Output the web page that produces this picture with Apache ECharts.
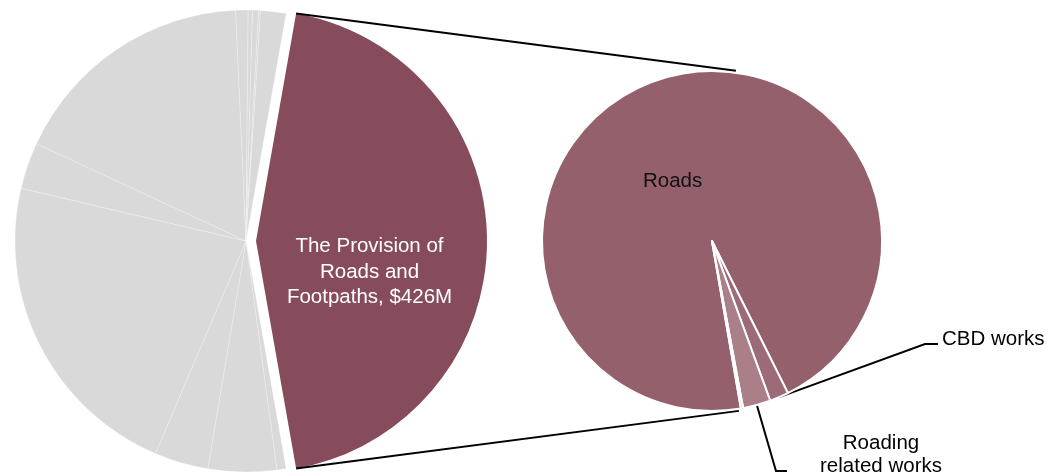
<!DOCTYPE html>
<html>
<head>
<meta charset="utf-8">
<script src="https://cdn.jsdelivr.net/npm/echarts@6/dist/echarts.min.js"></script>
<style>
  html, body { margin: 0; padding: 0; background: #ffffff; }
  #chart { width: 1063px; height: 475px; }
</style>
</head>
<body>
<div id="chart"></div>
<script>
// Spending by activity ($M): the highlighted activity first, then the remaining activity groups
const mainCategories = [
  'The Provision of Roads and Footpaths',
  'Activity group 1', 'Activity group 2', 'Activity group 3', 'Activity group 4',
  'Activity group 5', 'Activity group 6', 'Activity group 7', 'Activity group 8',
  'Activity group 9', 'Activity group 10', 'Activity group 11'
];
const mainValues = [426, 6.1, 45.8, 36.2, 213.3, 31.2, 166.4, 8.3, 2.9, 4.0, 1.3, 17.0];
const mainLabel = 'The Provision of\nRoads and\nFootpaths, $426M';

// Breakdown of the highlighted activity ($M)
const detailCategories = ['Roads', 'CBD works', 'Roading related works', 'Footpath works'];
const detailValues = [406.2, 7.7, 11.2, 0.9];
const detailLabels = ['Roads', 'CBD works', 'Roading\nrelated works', ''];

// ---- layout & style ----
const FONT = '"Liberation Sans", Arial, sans-serif';
const GREY = '#d9d9d9';
const MAROON = '#874c5c';
const detailColors = ['#93606c', '#9d6b77', '#ab7f88', '#c9a3ab'];

const mainCenter = [246, 241], mainR = 231, explode = 10, mainStart = 80;
const detailCenter = [712, 241], detailR = 170, detailStart = -80.2;

const rad = d => d * Math.PI / 180;
const mainTotal = mainValues.reduce((a, b) => a + b, 0);
const sweep = 360 * mainValues[0] / mainTotal;
const bisector = mainStart - sweep / 2;
// the highlighted slice is pulled out along its bisector
const mainCenterOut = [
  mainCenter[0] + explode * Math.cos(rad(bisector)),
  mainCenter[1] - explode * Math.sin(rad(bisector))
];
const onCircle = (c, r, a) => [c[0] + r * Math.cos(rad(a)), c[1] - r * Math.sin(rad(a))];

// connector lines between the pulled-out slice and the breakdown pie
const topCorner = onCircle(mainCenterOut, mainR, mainStart);
const bottomCorner = onCircle(mainCenterOut, mainR, mainStart - sweep);
const topEnd = onCircle(detailCenter, detailR + 2, 82);
const bottomEnd = onCircle(detailCenter, detailR + 2, -81);

const greyData = mainValues.map((v, i) => ({
  name: mainCategories[i],
  value: v,
  itemStyle: i === 0
    ? { color: 'transparent', borderWidth: 0 }
    : { color: GREY, borderColor: 'rgba(255,255,255,0.35)', borderWidth: 0.6 }
}));
const highlightData = mainValues.map((v, i) => ({
  name: mainCategories[i],
  value: v,
  itemStyle: { color: i === 0 ? MAROON : 'transparent', borderWidth: 0 },
  label: i === 0
    ? { show: true, position: 'inside', formatter: mainLabel, color: '#ffffff',
        fontFamily: FONT, fontSize: 20.5, lineHeight: 25.5, align: 'center', offset: [-5, 31] }
    : { show: false }
}));

const detailData = detailValues.map((v, i) => {
  const item = {
    name: detailCategories[i],
    value: v,
    itemStyle: { color: detailColors[i] }
  };
  if (i === 0) {
    item.label = { show: true, position: 'inside', formatter: detailLabels[i], color: '#111111',
      fontFamily: FONT, fontSize: 20.5, offset: [-12, 24] };
    item.labelLine = { show: false };
  } else if (detailLabels[i]) {
    item.label = { show: true, position: 'outside', formatter: detailLabels[i], color: '#000000',
      fontFamily: FONT, fontSize: 20.5, lineHeight: 23, align: 'center' };
    item.labelLine = { show: true, lineStyle: { color: '#000000', width: 2 } };
  } else {
    item.label = { show: false };
    item.labelLine = { show: false };
  }
  return item;
});

const chart = echarts.init(document.getElementById('chart'), null, { renderer: 'canvas' });
chart.setOption({
  animation: false,
  backgroundColor: '#ffffff',
  series: [
    {
      type: 'pie', silent: true, center: mainCenter, radius: mainR,
      startAngle: mainStart, clockwise: true,
      label: { show: false }, labelLine: { show: false },
      data: greyData
    },
    {
      type: 'pie', silent: true, center: mainCenterOut, radius: mainR,
      startAngle: mainStart, clockwise: true,
      labelLine: { show: false },
      data: highlightData
    },
    {
      type: 'pie', silent: true, center: detailCenter, radius: detailR,
      startAngle: detailStart, clockwise: true,
      itemStyle: { borderColor: '#ffffff', borderWidth: 2 },
      data: detailData,
      labelLayout: function (p) {
        const name = detailCategories[p.dataIndex];
        if (name === 'CBD works' && p.labelLinePoints) {
          return {
            x: 942, y: 339, align: 'left', verticalAlign: 'middle',
            labelLinePoints: [p.labelLinePoints[0], [925, 344], [938, 344]]
          };
        }
        if (name === 'Roading related works' && p.labelLinePoints) {
          return {
            x: 881, y: 455, align: 'center', verticalAlign: 'middle',
            labelLinePoints: [p.labelLinePoints[0], [776, 471], [787, 471]]
          };
        }
        return {};
      }
    }
  ],
  graphic: [
    { type: 'line', silent: true, z: 10,
      shape: { x1: topCorner[0], y1: topCorner[1], x2: topEnd[0], y2: topEnd[1] },
      style: { stroke: '#000000', lineWidth: 2 } },
    { type: 'line', silent: true, z: 10,
      shape: { x1: bottomCorner[0], y1: bottomCorner[1], x2: bottomEnd[0], y2: bottomEnd[1] },
      style: { stroke: '#000000', lineWidth: 2 } }
  ]
});
</script>
</body>
</html>
